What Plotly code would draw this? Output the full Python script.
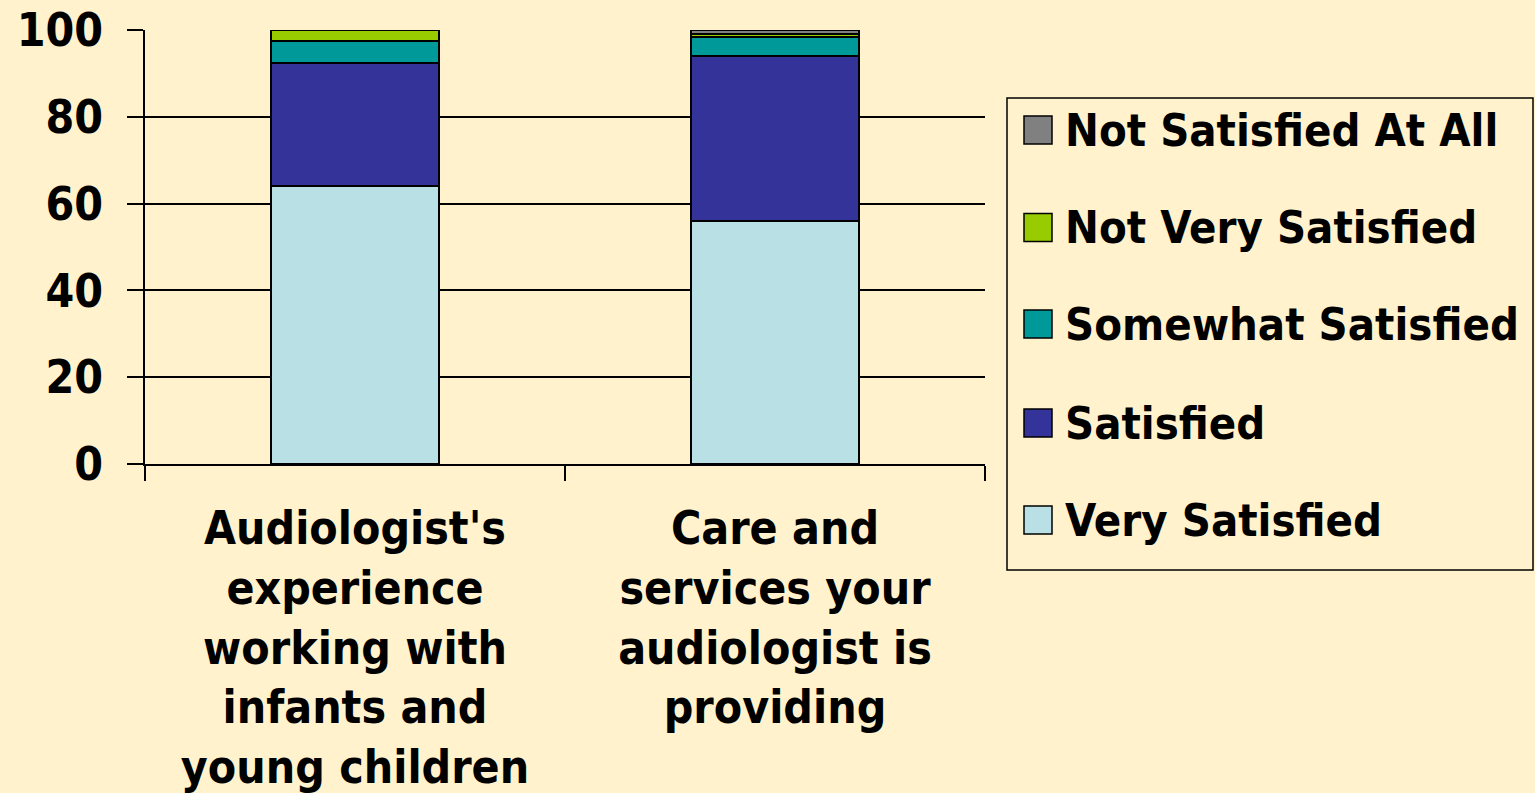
import plotly.graph_objects as go

categories = ["Audiologist's experience working with infants and young children",
              "Care and services your audiologist is providing"]
category_labels = ["Audiologist's<br>experience<br>working with<br>infants and<br>young children",
                   "Care and<br>services your<br>audiologist is<br>providing"]
series_names = ["Very Satisfied", "Satisfied", "Somewhat Satisfied",
                "Not Very Satisfied", "Not Satisfied At All"]
very_satisfied = [64.0, 56.0]
satisfied = [28.4, 38.0]
somewhat_satisfied = [5.1, 4.3]
not_very_satisfied = [2.5, 0.7]
not_satisfied_at_all = [0.0, 1.0]
y_ticks = [0, 20, 40, 60, 80, 100]

values = [very_satisfied, satisfied, somewhat_satisfied, not_very_satisfied, not_satisfied_at_all]
colors = ["#B9E0E4", "#333399", "#009999", "#99CC00", "#808080"]

BG = "#FFF2CD"
FONT = "DejaVu Sans Condensed"

fig = go.Figure()
for name, vals, col in zip(series_names, values, colors):
    fig.add_trace(go.Bar(x=categories, y=vals, name=name, marker_color=col,
                         marker_line=dict(color="black", width=2), width=0.4,
                         showlegend=False))

W, H = 1535, 793
L, R, T, B = 145, 550, 30, 329
pw, ph = W - L - R, H - T - B

def px_x(p):
    return (p - L) / pw

def px_y(p):
    return (H - B - p) / ph

shapes = []
annotations = []
# legend box
shapes.append(dict(type="rect", xref="paper", yref="paper",
                   x0=px_x(1007), x1=px_x(1533), y0=px_y(570), y1=px_y(98),
                   line=dict(color="black", width=1.5), fillcolor=BG, layer="below"))
centers = [130, 227.5, 324, 423, 520]
legend_order = list(reversed(range(len(series_names))))
for c, idx in zip(centers, legend_order):
    shapes.append(dict(type="rect", xref="paper", yref="paper",
                       x0=px_x(1024), x1=px_x(1052), y0=px_y(c + 14), y1=px_y(c - 14),
                       line=dict(color="black", width=1.5), fillcolor=colors[idx]))
    annotations.append(dict(text=series_names[idx], xref="paper", yref="paper",
                            x=px_x(1063), y=px_y(c), xanchor="left", yanchor="middle",
                            showarrow=False,
                            font=dict(family=FONT, size=45, color="black", weight="bold")))

fig.update_layout(
    width=W, height=H,
    margin=dict(l=L, r=R, t=T, b=B, autoexpand=False),
    paper_bgcolor=BG, plot_bgcolor=BG,
    barmode="stack", bargap=0.6,
    showlegend=False,
    shapes=shapes, annotations=annotations,
    font=dict(family=FONT, size=46, color="black", weight="bold"),
)
fig.update_xaxes(
    tickmode="array", tickvals=categories, ticktext=category_labels,
    tickfont=dict(family=FONT, size=46, color="black", weight="bold"),
    showline=True, linecolor="black", linewidth=1.5,
    ticks="outside", tickson="boundaries", ticklen=15, tickwidth=1.5, tickcolor="black",
    ticklabelstandoff=23, showgrid=False,
)
fig.update_yaxes(
    range=[0, 100], tickmode="array", tickvals=y_ticks,
    tickfont=dict(family=FONT, size=46, color="black", weight="bold"),
    showline=True, linecolor="black", linewidth=1.5,
    ticks="outside", ticklen=16, tickwidth=1.5, tickcolor="black",
    showgrid=True, gridcolor="black", gridwidth=1.5,
    ticklabelstandoff=15, zeroline=False,
)

fig.write_html("out.html", config={"displayModeBar": False},
               post_script="document.body.style.margin='0';document.body.style.background='%s';"
                           "document.body.style.overflow='hidden';" % BG)
